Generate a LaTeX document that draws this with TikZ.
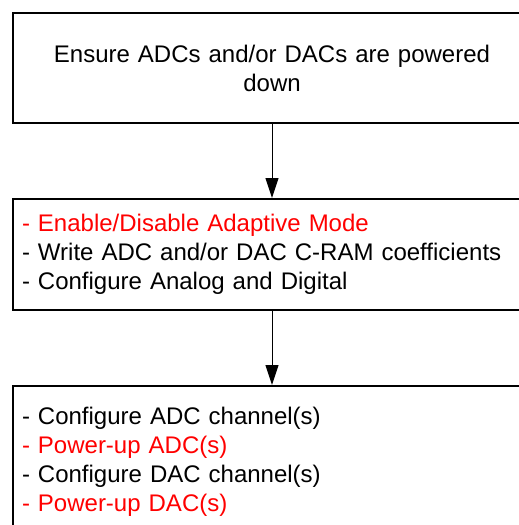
\documentclass[tikz,border=0pt]{standalone}
\usepackage{fontspec}
\setmainfont{Liberation Sans}
\usetikzlibrary{positioning, arrows.meta}
\tikzstyle{flowbox}=[draw, line width=2pt, rectangle, minimum width=518pt, inner xsep=9pt, font=\fontsize{24}{29}\selectfont]
\tikzstyle{flowarrow}=[-{Triangle[width=13pt,length=20pt]}, line width=1pt]

\begin{document}
\begin{tikzpicture}
    \useasboundingbox (0pt,0pt) rectangle (519pt,-525pt);
    \node		[flowbox, anchor=north west, minimum height=110pt, text width=500pt, align=center]		(B1) at (12pt,-12pt) {Ensure ADCs and/or DACs are powered\\down};
	\node		[flowbox, minimum height=111pt, text width=500pt, align=left]		(B2) [below=74pt of B1] {\textcolor{red}{- Enable/Disable Adaptive Mode}\\- Write ADC and/or DAC C-RAM coefficients\\- Configure Analog and Digital};
	\node		[flowbox, minimum height=152pt, text width=500pt, align=left]		(B3) [below=74pt of B2] {- Configure ADC channel(s)\\\textcolor{red}{- Power-up ADC(s)}\\- Configure DAC channel(s)\\\textcolor{red}{- Power-up DAC(s)}};
	\draw[flowarrow] (B1)--(B2);
	\draw[flowarrow] (B2)--(B3);
	
\end{tikzpicture}
\end{document}
